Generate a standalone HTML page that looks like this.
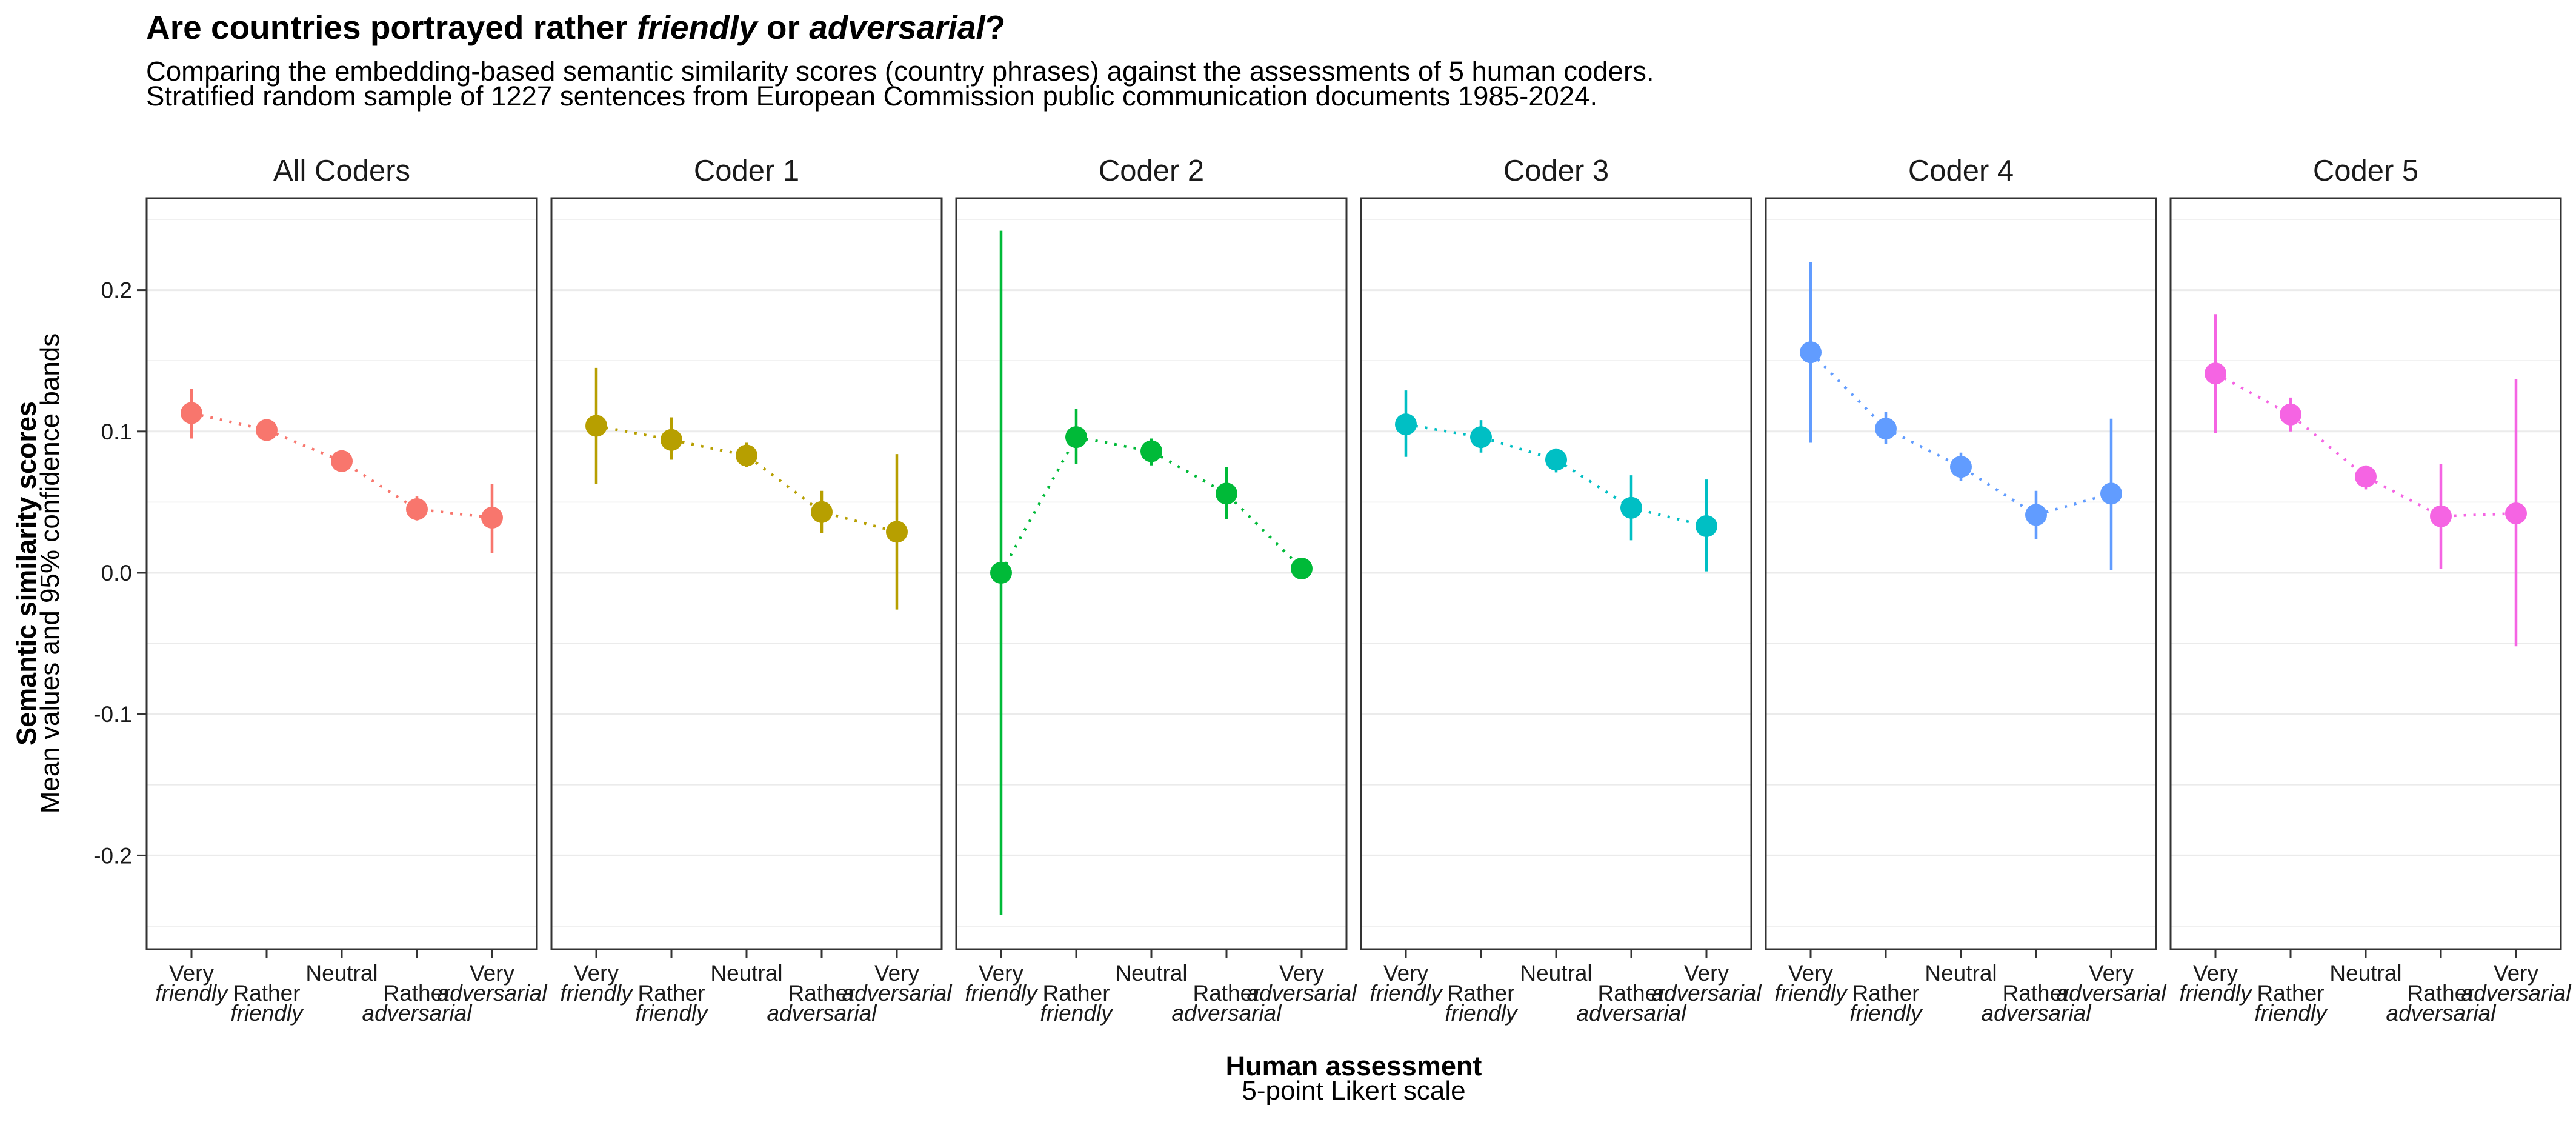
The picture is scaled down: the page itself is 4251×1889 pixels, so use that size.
<!DOCTYPE html>
<html><head><meta charset="utf-8"><style>
body{margin:0;background:#fff}
svg{display:block;font-family:"Liberation Sans",Arial,sans-serif}
</style></head><body>
<svg id="chart" width="4251" height="1889" viewBox="0 0 4251 1889" xmlns="http://www.w3.org/2000/svg">
<text x="241" y="64" font-size="55" font-weight="bold">Are countries portrayed rather <tspan font-style="italic">friendly</tspan> or <tspan font-style="italic">adversarial</tspan>?</text>
<text x="241" y="133" font-size="45.5">Comparing the embedding-based semantic similarity scores (country phrases) against the assessments of 5 human coders.</text>
<text x="241" y="174" font-size="45.5">Stratified random sample of 1227 sentences from European Commission public communication documents 1985-2024.</text>
<g>
<text transform="translate(59,946) rotate(-90)" text-anchor="middle" font-size="45" font-weight="bold">Semantic similarity scores</text>
<text transform="translate(97,946) rotate(-90)" text-anchor="middle" font-size="44">Mean values and 95% confidence bands</text>
</g>
<g>
<text x="2234" y="1774" text-anchor="middle" font-size="45" font-weight="bold">Human assessment</text>
<text x="2234" y="1814" text-anchor="middle" font-size="44">5-point Likert scale</text>
</g>
<g id="panels"></g>
</svg>
<script>
const panelNames = ["All Coders","Coder 1","Coder 2","Coder 3","Coder 4","Coder 5"];
const colors = ["#F8766D","#B79F00","#00BA38","#00BFC4","#619CFF","#F564E3"];
const categories = ["Very friendly","Rather friendly","Neutral","Rather adversarial","Very adversarial"];
const yTicks = [-0.2,-0.1,0.0,0.1,0.2];
const yTickLabels = ["-0.2","-0.1","0.0","0.1","0.2"];
const meanAll = [0.113,0.101,0.079,0.045,0.039];
const lowAll  = [0.095,0.098,0.076,0.037,0.014];
const highAll = [0.130,0.104,0.082,0.054,0.063];
const mean1 = [0.104,0.094,0.083,0.043,0.029];
const low1  = [0.063,0.080,0.075,0.028,-0.026];
const high1 = [0.145,0.110,0.092,0.058,0.084];
const mean2 = [0.000,0.096,0.086,0.056,0.003];
const low2  = [-0.242,0.077,0.076,0.038,0.001];
const high2 = [0.242,0.116,0.095,0.075,0.005];
const mean3 = [0.105,0.096,0.080,0.046,0.033];
const low3  = [0.082,0.085,0.071,0.023,0.001];
const high3 = [0.129,0.108,0.088,0.069,0.066];
const mean4 = [0.156,0.102,0.075,0.041,0.056];
const low4  = [0.092,0.091,0.065,0.024,0.002];
const high4 = [0.220,0.114,0.085,0.058,0.109];
const mean5 = [0.141,0.112,0.068,0.040,0.042];
const low5  = [0.099,0.100,0.059,0.003,-0.052];
const high5 = [0.183,0.124,0.076,0.077,0.137];

const means=[meanAll,mean1,mean2,mean3,mean4,mean5];
const lows=[lowAll,low1,low2,low3,low4,low5];
const highs=[highAll,high1,high2,high3,high4,high5];
const NS="http://www.w3.org/2000/svg";
const PT=327, PB=1566, PW=644, PITCH=668, P0=242;
function yScale(v){return 945 - v*2332;}
function xScale(p,i){return P0+p*PITCH+74+i*124;}
function mk(tag,attrs,parent){const e=document.createElementNS(NS,tag);for(const k in attrs)e.setAttribute(k,attrs[k]);parent.appendChild(e);return e;}
const root=document.getElementById('panels');
const labelLines=[[["Very",0,false],["friendly",1,true]],[["Rather",1,false],["friendly",2,true]],[["Neutral",0,false]],[["Rather",1,false],["adversarial",2,true]],[["Very",0,false],["adversarial",1,true]]];
const base=[1618,1651,1684];
for(let p=0;p<6;p++){
  const L=P0+p*PITCH;
  const g=mk('g',{},root);
  
  
  const st=mk('text',{x:L+PW/2,y:298,'text-anchor':'middle','font-size':49,fill:'#1a1a1a'},g);
  st.textContent=panelNames[p];
  
  
  for(let m=-0.25;m<=0.26;m+=0.1){const y=yScale(m);const ln=mk('line',{x1:L,x2:L+PW,y1:y,y2:y,stroke:'#EBEBEB','stroke-width':1.6},g);}
  yTicks.forEach((t,i)=>{const y=yScale(t);const ln=mk('line',{x1:L,x2:L+PW,y1:y,y2:y,stroke:'#EBEBEB','stroke-width':3},g);
    if(p===0){const tk=mk('line',{x1:226,x2:242,y1:y,y2:y,stroke:'#333','stroke-width':3},g);
      const tl=mk('text',{x:218,y:y+13,'text-anchor':'end','font-size':37,fill:'#1a1a1a'},g);tl.textContent=yTickLabels[i];}});
  const pts=means[p].map((v,i)=>xScale(p,i)+','+yScale(v)).join(' ');
  const pl=mk('polyline',{points:pts,fill:'none',stroke:colors[p],'stroke-width':4.5,'stroke-dasharray':'4 12'},g);
  
  categories.forEach((c,i)=>{const x=xScale(p,i);
    const eb=mk('line',{x1:x,x2:x,y1:yScale(lows[p][i]),y2:yScale(highs[p][i]),stroke:colors[p],'stroke-width':4.5},g);
    
    const pt=mk('circle',{cx:x,cy:yScale(means[p][i]),r:18,fill:colors[p]},g);
    
    const tk=mk('line',{x1:x,x2:x,y1:PB,y2:PB+15,stroke:'#333','stroke-width':3},g);
    
    labelLines[i].forEach(([s,li,it])=>{const t=mk('text',{x:x,y:base[li],'text-anchor':'middle','font-size':37,fill:'#1a1a1a'},g);if(it)t.setAttribute('font-style','italic');t.textContent=s;
      });
  });
  const bd=mk('rect',{x:L,y:PT,width:PW,height:PB-PT,fill:'none',stroke:'#333','stroke-width':3},g);
  
}
</script>
</body></html>
